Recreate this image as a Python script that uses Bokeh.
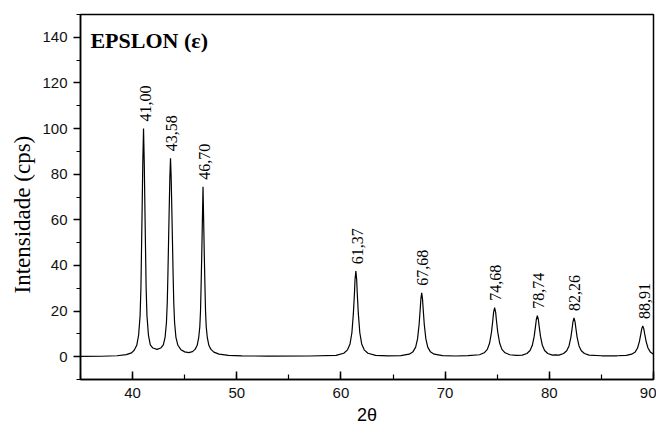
import numpy as np
from bokeh.plotting import figure
from bokeh.models import ColumnDataSource, Range1d, Label, SingleIntervalTicker, Title
from bokeh.core.properties import value
from bokeh.embed import file_html
from bokeh.resources import INLINE

# ---- data ----
# diffraction pattern (2theta, intensity) sampled by eye
two_theta = [
    35.0, 37.0, 38.5, 39.4, 39.9, 40.15, 40.4, 40.58, 40.72, 40.8, 40.85, 40.92, 40.98,
    41.05, 41.12, 41.18, 41.25, 41.3, 41.38, 41.52, 41.7, 41.95, 42.35,
    42.7, 42.95, 43.12, 43.25, 43.33, 43.39, 43.45, 43.52, 43.58, 43.64,
    43.70, 43.76, 43.83, 43.89, 43.95, 44.03, 44.16, 44.35, 44.65, 45.0, 45.4,
    45.75, 46.0, 46.2, 46.35, 46.45, 46.52, 46.58, 46.64, 46.7, 46.76,
    46.82, 46.88, 46.94, 47.0, 47.07, 47.17, 47.32, 47.52, 47.8, 48.3, 49.2, 50.5, 53.0, 57.0,
    59.53, 60.27, 60.63, 60.87, 61.05, 61.19, 61.3, 61.35, 61.43,
    61.51, 61.56, 61.67, 61.81, 61.99, 62.23, 62.59, 63.33,
    64.5, 65.75, 66.55, 66.92, 67.17, 67.35, 67.5, 67.61, 67.67, 67.75,
    67.83, 67.89, 68.0, 68.15, 68.33, 68.58, 68.95, 69.75,
    71.0, 72.2, 73.3, 73.75, 74.05, 74.27, 74.45, 74.58, 74.65, 74.75,
    74.85, 74.92, 75.05, 75.23, 75.45, 75.75, 76.2, 76.8,
    77.4, 77.85, 78.15, 78.37, 78.55, 78.68, 78.75, 78.85,
    78.95, 79.02, 79.15, 79.33, 79.55, 79.85, 80.3, 80.6,
    80.92, 81.37, 81.67, 81.89, 82.07, 82.2, 82.27, 82.37,
    82.47, 82.54, 82.67, 82.85, 83.07, 83.37, 83.82, 85.0, 86.5,
    87.4, 87.9, 88.25, 88.47, 88.65, 88.79, 88.87, 88.97,
    89.07, 89.15, 89.29, 89.47, 89.69, 90.0,
]
intensity = [
    0.1, 0.2, 0.4, 0.9, 1.7, 2.8, 5.0, 9.5, 18, 30, 45, 66, 85,
    100, 85, 66, 45, 30, 18, 9.5, 5.2, 3.8, 3.2,
    3.8, 5.2, 8.5, 15, 24, 36, 50, 66, 79, 87,
    79, 66, 50, 36, 24, 15, 8.5, 5.0, 3.0, 2.1, 1.8,
    2.2, 3.2, 5.0, 8.5, 13, 20, 32, 45, 60, 74.5,
    60, 45, 32, 20, 13, 8.5, 5.0, 3.2, 2.0, 1.1, 0.6, 0.35, 0.25, 0.3,
    0.6, 1.5, 3.0, 5.6, 10.5, 18.75, 28.1, 33.75, 37.5,
    33.75, 28.1, 18.75, 10.5, 5.6, 3.0, 1.5, 0.6,
    0.35, 0.45, 1.1, 2.2, 4.2, 7.8, 14, 21, 25.2, 28,
    25.2, 21, 14, 7.8, 4.2, 2.2, 1.1, 0.45,
    0.3, 0.45, 0.86, 1.7, 3.2, 6.0, 10.75, 16.1, 19.4, 21.5,
    19.4, 16.1, 10.75, 6.0, 3.2, 1.7, 0.86, 0.6,
    0.7, 1.4, 2.7, 5.0, 9.0, 13.5, 16.2, 18,
    16.2, 13.5, 9.0, 5.0, 2.7, 1.4, 0.7, 0.8,
    0.7, 1.4, 2.6, 4.7, 8.5, 12.8, 15.3, 17,
    15.3, 12.8, 8.5, 4.7, 2.6, 1.4, 0.7, 0.4, 0.4,
    0.6, 1.1, 2.1, 3.8, 6.75, 10.1, 12.2, 13.5,
    12.2, 10.1, 6.75, 3.8, 2.1, 1.1,
]

# peak annotations
peak_pos = [41.00, 43.58, 46.70, 61.37, 67.68, 74.68, 78.74, 82.26, 88.91]
peak_height = [100, 87, 74.5, 37.5, 28, 21.5, 18, 17, 13.5]
peak_text = ["41,00", "43,58", "46,70", "61,37", "67,68", "74,68", "78,74", "82,26", "88,91"]

title_text = "EPSLON (\u03b5)"
x_label = "2\u03b8"
y_label = "Intensidade (cps)"

# ---- figure ----
p = figure(width=656, height=433, output_backend="svg", toolbar_location=None,
           x_range=Range1d(35, 90), y_range=Range1d(-10, 150),
           min_border_left=80, min_border_right=3, min_border_top=14, min_border_bottom=54)

p.background_fill_color = "white"
p.border_fill_color = "white"
p.xgrid.visible = False
p.ygrid.visible = False
p.outline_line_color = "black"
p.outline_line_width = 1.5
p.outline_line_alpha = 1.0

p.line(two_theta, intensity, line_color="black", line_width=1.2)

src = ColumnDataSource(dict(x=peak_pos, y=peak_height, t=peak_text))
p.text(x="x", y="y", text="t", source=src, angle=np.pi / 2,
       text_align="left", text_baseline="middle", x_offset=2, y_offset=-7,
       text_font=value("Liberation Serif"), text_font_size=value("16px"),
       text_color="black")

p.add_layout(Label(x=35.95, y=138.5, text=title_text, text_font="Liberation Serif",
                   text_font_style="bold", text_font_size="22px",
                   text_baseline="alphabetic", text_color="black"))

# x axis
xa = p.xaxis[0]
xa.ticker = SingleIntervalTicker(interval=10, num_minor_ticks=2)
xa.axis_label = x_label
xa.axis_label_text_font = "Liberation Sans"
xa.axis_label_text_font_size = "18px"
xa.axis_label_text_font_style = "normal"
xa.axis_label_text_color = "black"
xa.axis_label_standoff = 4
xa.major_label_text_font = "Liberation Sans"
xa.major_label_text_font_size = "15px"
xa.major_label_text_color = "#111111"
xa.major_label_standoff = 8
xa.major_tick_in = 8
xa.major_tick_out = 0
xa.minor_tick_in = 5
xa.minor_tick_out = 0
xa.axis_line_width = 1.5
xa.major_tick_line_width = 1.5
xa.minor_tick_line_width = 1.2
xa.axis_line_color = "black"
xa.major_tick_line_color = "black"
xa.minor_tick_line_color = "black"

# y axis
ya = p.yaxis[0]
ya.ticker = SingleIntervalTicker(interval=20, num_minor_ticks=2)
ya.major_label_text_font = "Liberation Sans"
ya.major_label_text_font_size = "15px"
ya.major_label_text_color = "#111111"
ya.major_label_standoff = 6
ya.major_tick_in = 0
ya.major_tick_out = 7
ya.minor_tick_in = 0
ya.minor_tick_out = 4
ya.axis_line_width = 1.5
ya.major_tick_line_width = 1.5
ya.minor_tick_line_width = 1.2
ya.axis_line_color = "black"
ya.major_tick_line_color = "black"
ya.minor_tick_line_color = "black"

# y axis title, in the left panel, sitting a little low as in the original
p.add_layout(Title(text=y_label, align="left", offset=86, standoff=10,
                   text_font="Liberation Serif", text_font_size="23px",
                   text_font_style="normal", text_color="black"), "left")

open("out.html", "w").write(file_html(p, INLINE))
